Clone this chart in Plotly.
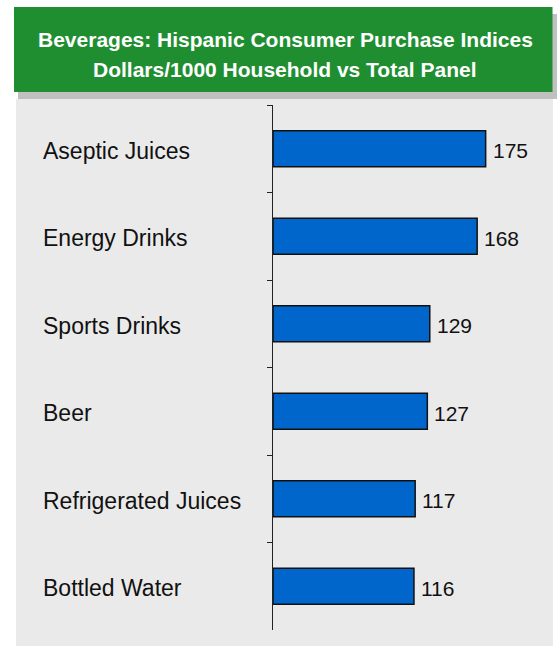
import plotly.graph_objects as go

# Purchase index data (Hispanic households vs total panel, dollars per 1000 HH)
categories = ["Aseptic Juices", "Energy Drinks", "Sports Drinks", "Beer",
              "Refrigerated Juices", "Bottled Water"]
index_values = [175, 168, 129, 127, 117, 116]
title_lines = ["Beverages: Hispanic Consumer Purchase Indices",
               "Dollars/1000 Household vs Total Panel"]

W, H = 557, 646
PLOT_L, PLOT_R, PLOT_T, PLOT_B = 273, 552, 105, 630
X_MAX = 229.6

FONT = "Liberation Sans, Arial, sans-serif"


def px(x):
    return (x - PLOT_L) / (PLOT_R - PLOT_L)


def py(y):
    return (PLOT_B - y) / (PLOT_B - PLOT_T)


fig = go.Figure()
fig.add_trace(go.Bar(
    x=index_values,
    y=categories,
    orientation="h",
    width=0.41,
    marker=dict(color="#0066CC", line=dict(color="#111111", width=1.5)),
    hoverinfo="skip",
))

shapes = [
    # light grey chart panel
    dict(type="rect", xref="paper", yref="paper", layer="below",
         x0=px(16), x1=px(553), y0=py(99), y1=py(646),
         fillcolor="#EAEAEA", line=dict(width=0)),
    # header drop shadow
    dict(type="rect", xref="paper", yref="paper", layer="below",
         x0=px(18), x1=px(557), y0=py(14), y1=py(99),
         fillcolor="#C0C0C0", line=dict(width=0)),
    # green header box
    dict(type="rect", xref="paper", yref="paper", layer="below",
         x0=px(14), x1=px(552.5), y0=py(7), y1=py(92),
         fillcolor="#1F8E31", line=dict(width=0)),
]

annotations = []
for i, line in enumerate(title_lines):
    annotations.append(dict(
        text=f"<b>{line}</b>", xref="paper", yref="paper",
        x=px(285), y=py(39.5 + 30 * i), xanchor="center", yanchor="middle",
        showarrow=False, font=dict(family=FONT, size=21, color="white"),
    ))

for cat, val in zip(categories, index_values):
    # category label, left aligned in the panel
    annotations.append(dict(
        text=cat, xref="paper", yref="y", x=px(41), y=cat,
        xanchor="left", yanchor="middle", yshift=-2, showarrow=False,
        font=dict(family=FONT, size=23, color="#111111"),
    ))
    # value label just past the bar end
    annotations.append(dict(
        text=str(val), xref="x", yref="y", x=val, y=cat,
        xanchor="left", yanchor="middle", xshift=5, yshift=-2, showarrow=False,
        font=dict(family=FONT, size=21, color="#111111"),
    ))

fig.update_layout(
    width=W, height=H,
    margin=dict(l=PLOT_L, r=W - PLOT_R, t=PLOT_T, b=H - PLOT_B, pad=0),
    paper_bgcolor="white",
    plot_bgcolor="rgba(0,0,0,0)",
    showlegend=False,
    bargap=0.59,
    shapes=shapes,
    annotations=annotations,
    xaxis=dict(range=[0, X_MAX], visible=False, fixedrange=True),
    yaxis=dict(
        type="category", autorange="reversed",
        showticklabels=False, showline=True, linecolor="#222222", linewidth=1.2,
        ticks="outside", tickson="boundaries", ticklen=5, tickcolor="#222222",
        tickwidth=1.2, showgrid=False, zeroline=False, fixedrange=True,
    ),
)

fig.write_html("out.html", config={"displayModeBar": False})
